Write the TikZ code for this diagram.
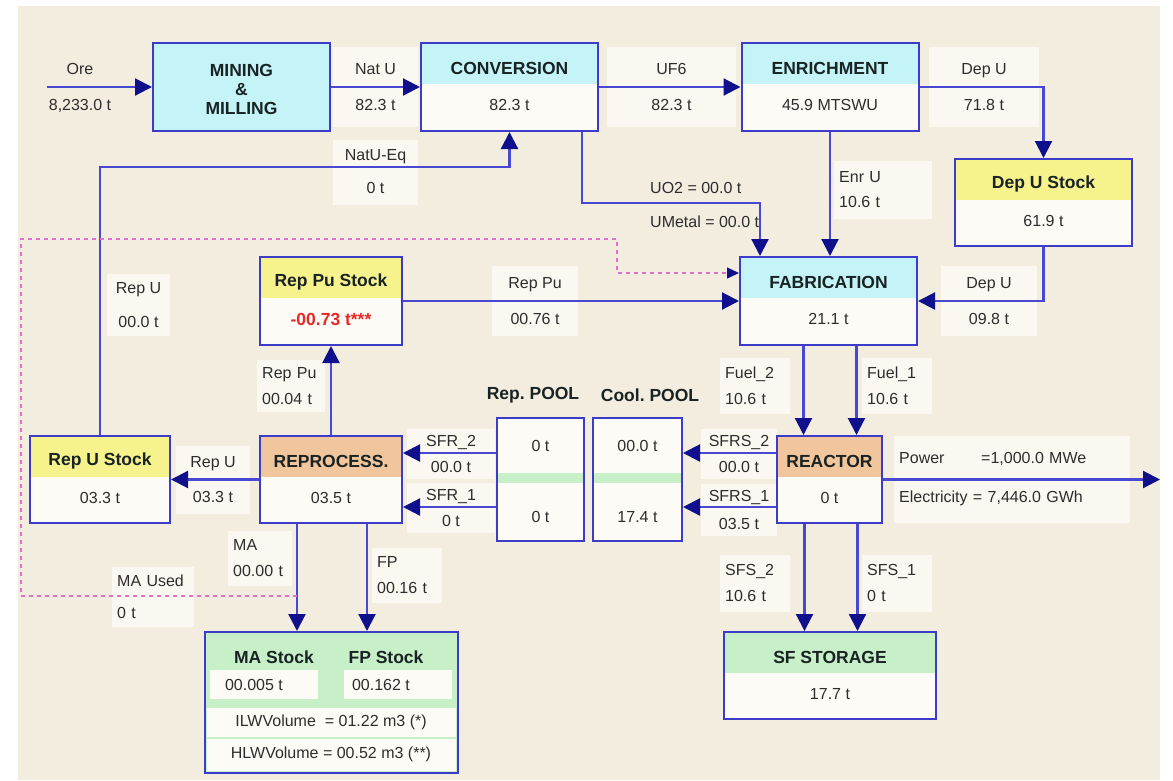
\documentclass[tikz,border=0pt]{standalone}
\usepackage{fontspec}
\setmainfont{Liberation Sans}
\usetikzlibrary{arrows.meta}

\definecolor{bgc}{RGB}{243,237,224}
\definecolor{lblc}{RGB}{251,248,241}
\definecolor{bodyc}{RGB}{253,251,245}
\definecolor{boxc}{RGB}{60,60,200}
\definecolor{linec}{RGB}{72,72,210}
\definecolor{tipc}{RGB}{16,16,140}
\definecolor{cyanc}{RGB}{196,243,248}
\definecolor{yelc}{RGB}{246,242,140}
\definecolor{orac}{RGB}{242,198,156}
\definecolor{grnc}{RGB}{200,240,200}
\definecolor{pinkc}{RGB}{226,110,210}
\definecolor{redc}{RGB}{232,40,40}
\definecolor{txtc}{RGB}{45,45,45}
\definecolor{ttlc}{RGB}{25,35,35}

\newcommand\lblfont{\fontsize{16}{19}\selectfont}
\newcommand\ttlfont{\fontsize{17.5}{19}\selectfont\bfseries}
\frenchspacing

\tikzset{
  box/.style={draw=boxc, line width=2pt, fill=bodyc, inner sep=0pt},
  hdr/.style={path picture={\fill[#1] (path picture bounding box.north west) rectangle ([yshift=-41pt]path picture bounding box.north east);}},
  band/.style={path picture={\fill[grnc] ([yshift=6.5pt]path picture bounding box.west) rectangle ([yshift=-3.5pt]path picture bounding box.east);}},
  ttl/.style={font=\ttlfont, text=ttlc, inner sep=0pt},
  val/.style={font=\lblfont, text=txtc, inner sep=0pt},
  lbl/.style={fill=lblc, font=\lblfont, text=txtc, inner sep=0pt, align=center},
  lbll/.style={fill=lblc, font=\lblfont, text=txtc, inner ysep=0pt, inner xsep=5pt, align=left, anchor=west},
  flow/.style={draw=linec, line width=2.2pt, -{Triangle[length=17pt, width=17pt, color=tipc]}},
  reflow/.style={draw=pinkc, line width=1.4pt, dash pattern=on 4pt off 4pt, -{Triangle[length=12pt, width=11pt, color=tipc]}},
}

\begin{document}
\begin{tikzpicture}[x=1pt, y=-1pt]
  \useasboundingbox (0,0) rectangle (1173,780);
  \fill[white] (0,0) rectangle (1173,780);
  \fill[bgc] (18,6) rectangle (1160,780);

  % flow labels
  \node[val, align=center] (lore) at (80,88) {Ore\\[17pt]8,233.0 t};
  \node[lbl, minimum width=85pt, minimum height=80pt] (lnat) at (375.5,87) {Nat U\\[17pt]82.3 t};
  \node[lbl, minimum width=129pt, minimum height=80pt] (luf) at (671.5,87) {UF6\\[17pt]82.3 t};
  \node[lbl, minimum width=110pt, minimum height=80pt] (ldep) at (984,87) {Dep U\\[17pt]71.8 t};
  \node[lbl, minimum width=85pt, minimum height=65pt] (lnateq) at (375.5,172) {NatU-Eq\\[14pt]0 t};
  \node[val, align=left, anchor=west] (luo) at (650,205) {UO2 = 00.0 t\\[15pt]UMetal = 00.0 t};
  \node[lbll, text width=88pt, minimum height=58pt] (lenr) at (834,190) {Enr U\\[6pt]10.6 t};
  \node[lbl, minimum width=63pt, minimum height=62pt] (lrepu) at (138.5,305) {Rep U\\[15pt]00.0 t};
  \node[lbl, minimum width=86pt, minimum height=70pt] (lreppu) at (535,301) {Rep Pu\\[17pt]00.76 t};
  \node[lbl, minimum width=96pt, minimum height=70pt] (ldep2) at (989,301) {Dep U\\[17pt]09.8 t};
  \node[lbll, text width=58pt, minimum height=52pt] (lreppu2) at (257,386) {Rep Pu\\[7pt]00.04 t};
  \node[lbll, text width=60pt, minimum height=56pt] (lfuel2) at (720,386) {Fuel\_2\\[7pt]10.6 t};
  \node[lbll, text width=60pt, minimum height=56pt] (lfuel1) at (862,386) {Fuel\_1\\[7pt]10.6 t};
  \node[lbl, minimum width=74pt, minimum height=68pt] (lrepu2) at (213,480) {Rep U\\[16pt]03.3 t};
  \node[lbl, minimum width=88pt, minimum height=50pt] (lsfr2) at (451,454) {SFR\_2\\[7pt]00.0 t};
  \node[lbl, minimum width=88pt, minimum height=50pt] (lsfr1) at (451,508) {SFR\_1\\[7pt]0 t};
  \node[lbl, minimum width=76pt, minimum height=50pt] (lsfrs2) at (739,454) {SFRS\_2\\[7pt]00.0 t};
  \node[lbl, minimum width=76pt, minimum height=52pt] (lsfrs1) at (739,510) {SFRS\_1\\[9pt]03.5 t};
  \node[lbll, text width=226pt, minimum height=87pt] (lpow) at (894,479) {\makebox[82pt][l]{Power}=1,000.0 MWe\\[20pt]Electricity = 7,446.0 GWh};
  \node[lbll, text width=60pt, minimum height=57pt] (lsfs2) at (720,583) {SFS\_2\\[7pt]10.6 t};
  \node[lbll, text width=60pt, minimum height=57pt] (lsfs1) at (862,583) {SFS\_1\\[7pt]0 t};
  \node[lbll, text width=54pt, minimum height=55pt] (lma) at (228,558) {MA\\[7pt]00.00 t};
  \node[lbll, text width=60pt, minimum height=55pt] (lfp) at (372,575) {FP\\[7pt]00.16 t};
  \node[lbll, text width=72pt, minimum height=60pt] (lmau) at (112,597) {MA Used\\[13pt]0 t};

  % boxes
  \node[box, fill=cyanc, minimum width=177pt, minimum height=88pt] (mine) at (241.5,87) {};
  \node[box, hdr=cyanc, minimum width=177pt, minimum height=88pt] (conv) at (509.5,87) {};
  \node[box, hdr=cyanc, minimum width=177pt, minimum height=88pt] (enr) at (830,87) {};
  \node[box, hdr=yelc, minimum width=177pt, minimum height=87pt] (depst) at (1043.5,202.5) {};
  \node[box, hdr=cyanc, minimum width=177pt, minimum height=88pt] (fab) at (828.5,301) {};
  \node[box, hdr=yelc, minimum width=142pt, minimum height=88pt] (reppu) at (331,301) {};
  \node[box, hdr=yelc, minimum width=140pt, minimum height=87pt] (repust) at (100,479.5) {};
  \node[box, hdr=orac, minimum width=142pt, minimum height=87pt] (repro) at (331,479.5) {};
  \node[box, hdr=orac, minimum width=105pt, minimum height=87pt] (reac) at (829.5,479.5) {};
  \node[box, band, minimum width=87pt, minimum height=123pt] (reppool) at (540.5,479.5) {};
  \node[box, band, minimum width=89pt, minimum height=123pt] (coolpool) at (637.5,479.5) {};
  \node[box, hdr=grnc, minimum width=212pt, minimum height=87pt] (sfst) at (830,675.5) {};
  \node[box, fill=grnc, minimum width=253pt, minimum height=141pt] (mafp) at (331.5,702.5) {};

  % connectors
  \coordinate (orein) at (47,87);
  \coordinate (powout) at (1160,479.5);
  \draw[flow] (orein) -- (mine.west);
  \draw[flow] (mine) -- (conv);
  \draw[flow] (conv) -- (enr);
  \draw[flow] (enr.east) -| (depst.north);
  \draw[flow] (depst.south) |- (fab.east);
  \draw[flow] (enr.south) -- (enr.south |- fab.north);
  \draw[flow] ([xshift=72.5pt]conv.south) -- ++(0,71) -| ([xshift=-68.5pt]fab.north);
  \draw[flow] (repust.north) -- ++(0,-268) -| (conv.south);
  \draw[flow] (reppu) -- (fab);
  \draw[flow] (repro) -- (reppu);
  \draw[flow] (repro) -- (repust);
  \draw[flow] ([yshift=26.5pt]reppool.west) -- ([yshift=26.5pt]repro.east);
  \draw[flow] ([yshift=-27.5pt]reppool.west) -- ([yshift=-27.5pt]repro.east);
  \draw[flow] ([yshift=26.5pt]reac.west) -- ([yshift=26.5pt]coolpool.east);
  \draw[flow] ([yshift=-27.5pt]reac.west) -- ([yshift=-27.5pt]coolpool.east);
  \foreach \dx in {-25,28}
    \draw[flow] ([xshift=\dx pt]fab.south) -- ([xshift=\dx pt]fab.south |- reac.north);
  \foreach \dx in {-25,28}
    \draw[flow] ([xshift=\dx pt]reac.south) -- ([xshift=\dx pt]reac.south |- sfst.north);
  \foreach \dx in {-34,36}
    \draw[flow] ([xshift=\dx pt]repro.south) -- ([xshift=\dx pt]repro.south |- mafp.north);
  \draw[flow] (reac) -- (powout);
  \coordinate (mau) at (297,596);
  \coordinate (dsw) at (21,596);
  \coordinate (dnw) at (21,239);
  \coordinate (dne) at (617,239);
  \draw[reflow] (mau) -- (dsw) -- (dnw) -- (dne) |- ([yshift=28pt]fab.west);

  % box texts
  \node[ttl, align=center] (mine-t) at ([yshift=-2pt]mine.center) {MINING\\\&\\MILLING};
  \foreach \n/\t/\v in {conv/CONVERSION/82.3 t, enr/ENRICHMENT/45.9 MTSWU, depst/Dep U Stock/61.9 t,
      fab/FABRICATION/21.1 t, repust/Rep U Stock/03.3 t, repro/REPROCESS./03.5 t,
      reac/REACTOR/0 t, sfst/SF STORAGE/17.7 t} {
    \node[ttl] (\n-t) at ([yshift=-26pt]\n.north) {\t};
    \node[val] (\n-v) at ([yshift=-63pt]\n.north) {\v};
  }
  \node[ttl] (reppu-t) at ([yshift=-26pt]reppu.north) {Rep Pu Stock};
  \node[ttl, text=redc] (reppu-v) at ([yshift=-63pt]reppu.north) {-00.73 t***};

  % pools
  \node[ttl] (trp) at (533,395) {Rep. POOL};
  \node[ttl] (tcp) at (650,395) {Cool. POOL};
  \node[val] (rp2) at (540.5,446) {0 t};
  \node[val] (rp1) at (540.5,517) {0 t};
  \node[val] (cp2) at (637.5,446) {00.0 t};
  \node[val] (cp1) at (637.5,517) {17.4 t};

  % MA / FP stock
  \fill[bodyc] (210,670) rectangle (318,699);
  \fill[bodyc] (344,670) rectangle (452,699);
  \fill[bodyc] (207,708) rectangle (456,737);
  \fill[bodyc] (207,738.5) rectangle (456,771);
  \node[ttl] (mas-t) at (274,657) {MA Stock};
  \node[ttl] (fps-t) at (386,657) {FP Stock};
  \node[val] (mas-v) at (254,685) {00.005 t};
  \node[val] (fps-v) at (381,685) {00.162 t};
  \node[val] (ilw) at (331,722) {ILWVolume \ = 01.22 m3 (*)};
  \node[val] (hlw) at (331,754) {HLWVolume = 00.52 m3 (**)};
\end{tikzpicture}
\end{document}
